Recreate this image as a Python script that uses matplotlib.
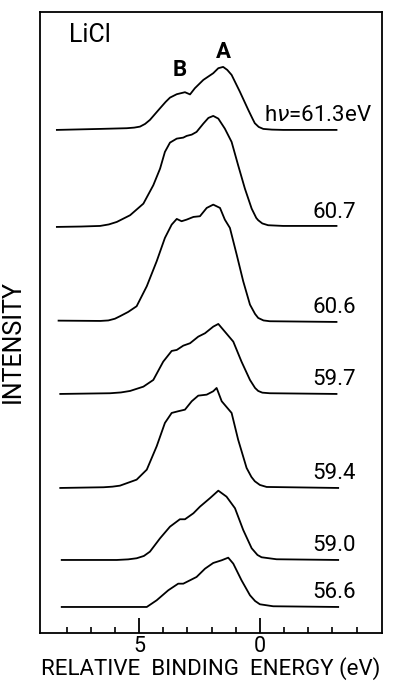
import matplotlib

matplotlib.use("Agg")
import matplotlib.pyplot as plt  # noqa: E402
from matplotlib.ticker import FixedLocator  # noqa: E402

plt.rcParams.update({"font.family": ["Roboto", "DejaVu Sans"], "font.size": 15})

# photon energies (eV) and the baseline of each stacked spectrum (arb. units)
HV = ["h$\\nu$=61.3eV", "60.7", "60.6", "59.7", "59.4", "59.0", "56.6"]
OFFSETS = [503, 406, 311, 239, 145, 73, 26]

# relative binding energy (eV) / intensity (arb.)
E_613 = [8.40, 6.61, 5.51, 5.20, 4.96, 4.75, 4.55, 4.13, 3.90, 3.72, 3.44, 3.10, 2.89, 2.69,
         2.34, 1.93, 1.72, 1.52, 1.35, 1.17, 0.83, 0.48, 0.30, 0.21, 0.05, -0.14, -0.5, -0.96, -3.17]
I_613 = [0, 1, 1.7, 2.3, 3.3, 6, 10, 21.7, 28, 32.3, 35.7, 37.7, 35.5, 41.7,
         50, 56.7, 61.7, 63, 60, 55, 38.3, 20, 11, 6.7, 3, 1, 0.3, 0, 0]

E_607 = [8.40, 7.4, 6.61, 6.25, 5.92, 5.37, 4.82, 4.41, 4.13, 3.93, 3.72, 3.44, 3.17, 3.03,
         2.82, 2.62, 2.34, 2.13, 1.93, 1.72, 1.45, 1.17, 0.90, 0.62, 0.34, 0.15, 0.07, -0.1,
         -0.34, -0.96, -3.17]
I_607 = [0, 0.4, 1, 2.5, 5, 11.7, 23.3, 41.7, 58.3, 75, 84.3, 88.3, 89.3, 91,
         92.3, 95, 103.3, 109, 111, 108.3, 98.3, 85, 61.7, 38.3, 18.3, 9, 6.7, 3.5,
         1.7, 1, 1]

E_606 = [8.33, 6.6, 6.27, 6.0, 5.79, 5.45, 5.10, 4.68, 4.27, 3.93, 3.65, 3.44, 3.24, 3.03, 2.75,
         2.48, 2.20, 1.93, 1.65, 1.45, 1.24, 0.96, 0.69, 0.41, 0.2, 0.07, -0.15, -0.41, -3.17]
I_606 = [1.3, 1.0, 1.5, 3.2, 5.7, 10, 15.7, 35.7, 60.7, 84, 97.3, 103, 100.7, 102.3, 105,
         105.7, 114, 117.3, 114, 102.3, 94, 67.3, 40.7, 17.3, 8, 4, 1.5, 0.7, 0]

E_597 = [8.26, 6.20, 5.75, 5.37, 4.82, 4.41, 4.00, 3.65, 3.44, 3.17, 2.89, 2.55, 2.27, 1.93,
         1.72, 1.45, 1.10, 0.76, 0.41, 0.2, 0.07, -0.1, -0.41, -3.17]
I_597 = [0, 0.7, 1.5, 3, 7.3, 14, 32.3, 43, 44, 48.3, 50.7, 57.3, 60.7, 67.3,
         70, 62.3, 52.3, 32.3, 14, 6, 3, 1.3, 0.7, 0]

E_594 = [8.26, 6.47, 6.1, 5.79, 5.10, 4.68, 4.27, 3.93, 3.65, 3.38, 3.10, 2.82, 2.55, 2.20,
         1.93, 1.79, 1.58, 1.17, 0.90, 0.55, 0.35, 0.21, 0.0, -0.28, -3.24]
I_594 = [0, 0.7, 1.3, 2.3, 8.3, 18.3, 41.7, 65, 75, 76.7, 78.3, 86.7, 92.3, 93.3,
         96.7, 100, 86.7, 75, 48.3, 20, 11, 6.7, 3, 1, 0]

E_590 = [8.20, 5.92, 5.45, 5.10, 4.80, 4.55, 4.13, 3.72, 3.31, 3.10, 2.75, 2.48, 2.07, 1.72,
         1.38, 1.03, 0.69, 0.34, 0.1, -0.07, -0.69, -3.24]
I_590 = [0, 0, 0.6, 1.7, 4, 8.3, 21.7, 33.3, 40.7, 40.7, 46.7, 53.3, 61.7, 69.3,
         63.3, 51.7, 30, 11.7, 5, 2.7, 0.7, 0]

E_566 = [8.20, 4.68, 4.27, 3.79, 3.38, 3.17, 2.89, 2.62, 2.27, 1.93, 1.58, 1.31, 1.10,
         0.76, 0.41, 0.2, 0.0, -0.55, -3.24]
I_566 = [0, 0, 6.7, 16.7, 23.3, 23.3, 26.7, 30, 38.3, 44, 46.7, 49.3, 43.3,
         26.7, 11.7, 6, 2.7, 0.7, 0]

CURVES = [(E_613, I_613), (E_607, I_607), (E_606, I_606), (E_597, I_597),
          (E_594, I_594), (E_590, I_590), (E_566, I_566)]

fig = plt.figure(figsize=(4.12, 6.84), dpi=100)
ax = fig.add_axes([0.097, 0.0746, 0.83, 0.908])

for (e, inten), off, lab in zip(CURVES, OFFSETS, HV):
    ax.plot(e, [v + off for v in inten], color="black", lw=1.3)
    ax.text(-3.97 if off != OFFSETS[0] else -4.62, off + 14, lab,
            ha="right", va="center", fontsize=16)

ax.text(7.9, 598, "LiCl", ha="left", va="center", fontsize=18)
ax.text(3.3, 563, "B", ha="center", va="center", fontsize=16, fontweight="bold")
ax.text(1.53, 581, "A", ha="center", va="center", fontsize=16, fontweight="bold")

ax.set_xlim(9.1, -5.05)
ax.set_ylim(0, 621)
ax.set_yticks([])
ax.xaxis.set_major_locator(FixedLocator([5, 0]))
ax.xaxis.set_minor_locator(FixedLocator(list(range(-4, 9))))
ax.tick_params(axis="x", which="major", direction="in", length=11, width=1.3,
               labelsize=15.5, pad=2)
ax.tick_params(axis="x", which="minor", direction="in", length=4, width=1.2)
for s in ax.spines.values():
    s.set_linewidth(1.3)
ax.set_xlabel("RELATIVE  BINDING  ENERGY (eV)", fontsize=16, labelpad=0)
ax.set_ylabel("INTENSITY", fontsize=18)
ax.yaxis.set_label_coords(-0.045, 0.47)

fig.savefig("out.png", dpi=100)
